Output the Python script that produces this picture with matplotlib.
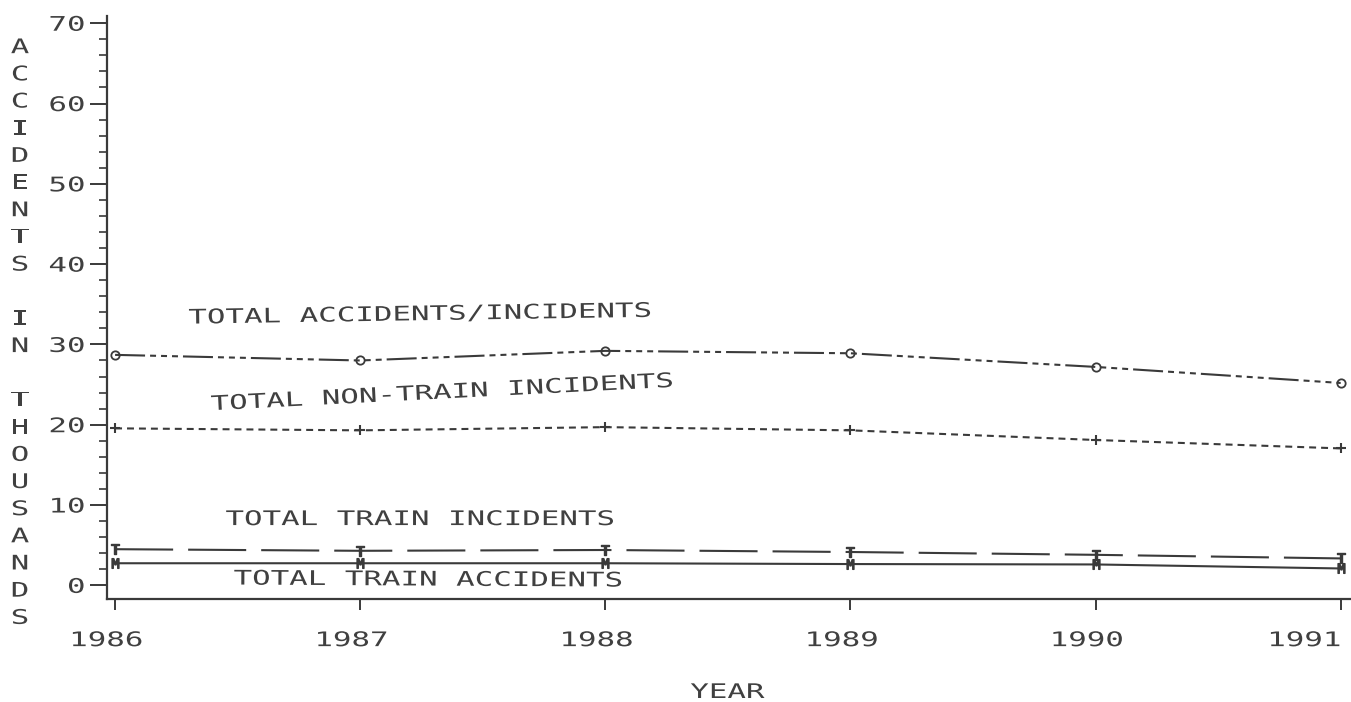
import matplotlib
matplotlib.use("Agg")
import matplotlib.pyplot as plt
from matplotlib.patheffects import AbstractPathEffect
from matplotlib.transforms import Affine2D
from matplotlib.ticker import MultipleLocator

# ---------------- data ----------------
years = [1986, 1987, 1988, 1989, 1990, 1991]
x_tick_labels = ["1986", "1987", "1988", "1989", "1990", "1991"]
y_ticks = [0, 10, 20, 30, 40, 50, 60, 70]

total_accidents_incidents = [28.7, 28.0, 29.2, 28.9, 27.2, 25.2]
total_non_train_incidents = [19.55, 19.3, 19.7, 19.3, 18.1, 17.05]
total_train_incidents = [4.5, 4.3, 4.4, 4.15, 3.8, 3.35]
total_train_accidents = [2.75, 2.75, 2.75, 2.65, 2.6, 2.1]

series_names = ["TOTAL ACCIDENTS/INCIDENTS", "TOTAL NON-TRAIN INCIDENTS",
                "TOTAL TRAIN INCIDENTS", "TOTAL TRAIN ACCIDENTS"]
x_label = "YEAR"
y_label = "ACCIDENTS IN THOUSANDS"

# ---------------- style ----------------
INK = "#3a3a3a"
TXT = "#404040"
FONT = "DejaVu Sans Mono"
FS = 14.5
SX = 1.53
plt.rcParams["lines.scale_dashes"] = False
plt.rcParams["font.family"] = [FONT, "DejaVu Sans"]


class Stretch(AbstractPathEffect):
    """Widen glyphs horizontally (plotter-like lettering)."""

    def __init__(self, sx=SX, anchor="center", dx=0.0):
        super().__init__()
        self.sx = sx
        self.anchor = anchor
        self.dx = dx

    def draw_path(self, renderer, gc, tpath, affine, rgbFace=None):
        if len(tpath.vertices) == 0:
            return
        ext = tpath.get_extents()
        if self.anchor == "right":
            cx = ext.x1
        elif self.anchor == "left":
            cx = ext.x0
        else:
            cx = 0.5 * (ext.x0 + ext.x1)
        t = (Affine2D().translate(-cx, 0).scale(self.sx, 1).translate(cx, 0)
             + affine + Affine2D().translate(self.dx, 0))
        renderer.draw_path(gc, tpath, t, rgbFace)


W, H = 1351, 702
fig = plt.figure(figsize=(W / 100, H / 100), dpi=100)
fig.patch.set_facecolor("white")
ax = fig.add_axes([106.5 / W, 1 - 598.5 / H, 1 - 106.5 / W, (598.5 - 16) / H])

lw = 1.5
ax.plot(years, total_accidents_incidents, color=INK, lw=lw,
        dashes=[21.6, 3.6, 4.3, 3.6, 4.3, 3.6, 4.3, 3.6],
        marker="o", ms=6, mfc="none", mec=INK, mew=1.3)
ax.plot(years, total_non_train_incidents, color=INK, lw=lw,
        dashes=[5.0, 3.6], marker="+", ms=7, mec=INK, mew=1.5)
ax.plot(years, total_train_incidents, color=INK, lw=lw,
        dashes=[41.8, 10.8], marker="$\\mathtt{T}$", ms=7, mec=INK, mfc=INK)
ax.plot(years, total_train_accidents, color=INK, lw=lw,
        marker="$\\mathtt{M}$", ms=7, mec=INK, mfc=INK)

ax.set_xlim(1985.965, 1991.042)
ax.set_ylim(-1.64, 70.9)

for s in ("top", "right"):
    ax.spines[s].set_visible(False)
for s in ("left", "bottom"):
    ax.spines[s].set_color(INK)
    ax.spines[s].set_linewidth(1.6)

ax.set_xticks(years, labels=x_tick_labels)
ax.set_yticks(y_ticks)
ax.yaxis.set_minor_locator(MultipleLocator(2))
ax.tick_params(axis="x", direction="out", length=8, width=1.4, color=INK,
               pad=15.5, labelsize=FS, labelcolor=TXT)
ax.tick_params(axis="y", which="major", direction="out", length=12, width=1.4,
               color=INK, pad=3.6, labelsize=FS, labelcolor=TXT)
ax.tick_params(axis="y", which="minor", direction="out", length=6, width=1.2,
               color=INK)

xlabs = ax.get_xticklabels()
for i, lab in enumerate(xlabs):
    lab.set_family(FONT)
    if i == len(xlabs) - 1:
        lab.set_horizontalalignment("right")
        lab.set_path_effects([Stretch(SX, "right", 0.0)])
    else:
        lab.set_path_effects([Stretch(SX, "center", -8.5)])
for lab in ax.get_yticklabels():
    lab.set_family(FONT)
    lab.set_path_effects([Stretch(SX, "right")])

# series labels
label_pos = [(1987.244, 33.7, 0.85), (1987.334, 23.95, 2.9),
             (1987.244, 8.19, 0.0), (1987.277, 0.66, -0.3)]
for name, (lx, ly, rot) in zip(series_names, label_pos):
    ax.text(lx, ly, name, ha="center", va="center", rotation=rot,
            rotation_mode="anchor", fontsize=FS, color=TXT, family=FONT,
            path_effects=[Stretch(SX)])

# axis titles
fig.text(727.5 / W, 1 - 692.5 / H, x_label, ha="center", va="center",
         fontsize=FS, color=TXT, family=FONT, path_effects=[Stretch(SX)])
fig.text(20 / W, 1 - 333 / H, "\n".join(y_label), ha="center", va="center",
         multialignment="center", linespacing=1.545, fontsize=FS, color=TXT,
         family=FONT, path_effects=[Stretch(SX)])

fig.savefig("out.png", dpi=100, facecolor="white")
